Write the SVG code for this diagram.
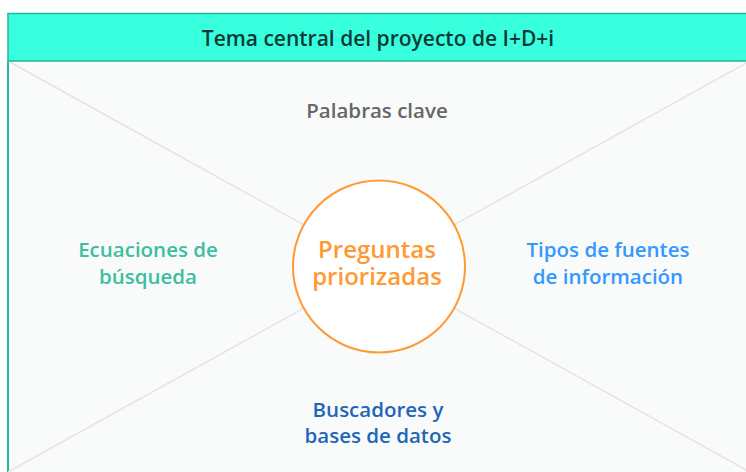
<svg xmlns="http://www.w3.org/2000/svg" width="746" height="472" viewBox="0 0 746 472">
<style>
text{font-family:"Open Sans",Lato,"Liberation Sans",sans-serif;font-weight:600;text-anchor:middle}
.lbl{font-size:20.5px}
.diag{stroke:#E4E4E4;stroke-width:1.5;fill:none}
</style>
<rect x="0" y="0" width="746" height="472" fill="#FFFFFF"/>
<g id="frame">
<rect x="8" y="61" width="742" height="415" fill="#F9FAFA"/>
<line x1="8" y1="61" x2="8" y2="472" stroke="#26B596" stroke-width="2"/>
</g>
<g id="connectors">
<line class="diag" x1="8" y1="61" x2="750" y2="472"/>
<line class="diag" x1="750" y1="61" x2="8" y2="472"/>
</g>
<g id="header">
<rect x="8" y="13.5" width="742" height="47.5" fill="#38FFDD" stroke="#26B596" stroke-width="1.5"/>
<text x="378" y="46" font-size="21" fill="#0F3B37">Tema central del proyecto de I+D+i</text>
</g>
<g id="palabras">
<text class="lbl" x="377" y="118" fill="#666666">Palabras clave</text>
</g>
<g id="ecuaciones">
<text class="lbl" x="148" y="257" fill="#3DBF9F">Ecuaciones de</text>
<text class="lbl" x="148" y="284" fill="#3DBF9F">búsqueda</text>
</g>
<g id="tipos">
<text class="lbl" x="608" y="257" fill="#3399FF">Tipos de fuentes</text>
<text class="lbl" x="608" y="284" fill="#3399FF">de información</text>
</g>
<g id="buscadores">
<text class="lbl" x="378" y="417" fill="#1F66B8">Buscadores y</text>
<text class="lbl" x="378" y="443" fill="#1F66B8">bases de datos</text>
</g>
<g id="preguntas">
<circle cx="379" cy="266.5" r="86" fill="#FFFFFF" stroke="#FF9933" stroke-width="2"/>
<text x="377" y="258" font-size="24" font-weight="700" fill="#FF9933">Preguntas</text>
<text x="377" y="285" font-size="24" font-weight="700" fill="#FF9933">priorizadas</text>
</g>
</svg>
